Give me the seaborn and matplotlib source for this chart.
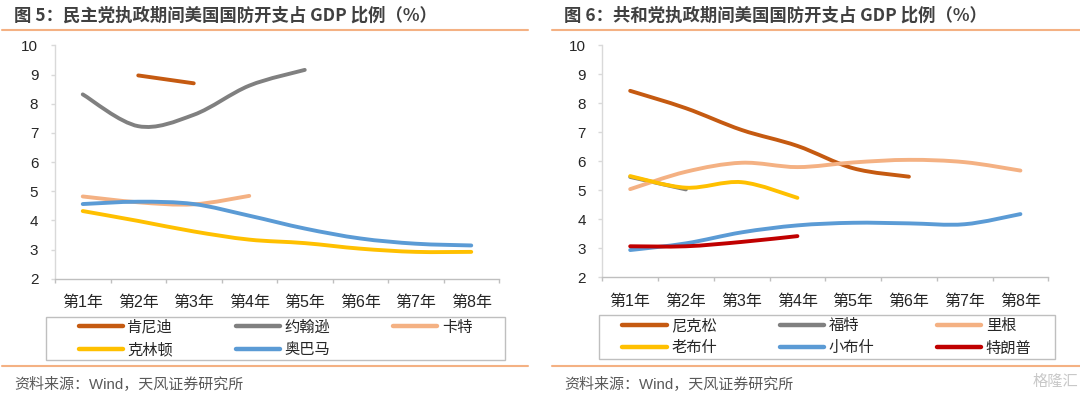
import numpy as np
import pandas as pd
import matplotlib
matplotlib.use("Agg")
import matplotlib.pyplot as plt
import seaborn as sns
from matplotlib.path import Path
from matplotlib.patches import PathPatch, Rectangle
from matplotlib.lines import Line2D

# ---------------- data ----------------
years = ["第1年", "第2年", "第3年", "第4年", "第5年", "第6年", "第7年", "第8年"]
nan = np.nan

dem_names = ["肯尼迪", "约翰逊", "卡特", "克林顿", "奥巴马"]
kennedy = [nan, 8.97, 8.70, nan, nan, nan, nan, nan]
johnson = [8.32, 7.23, 7.62, 8.62, 9.16, nan, nan, nan]
carter = [4.82, 4.62, 4.55, 4.84, nan, nan, nan, nan]
clinton = [4.32, 3.98, 3.62, 3.34, 3.22, 3.03, 2.92, 2.92]
obama = [4.56, 4.64, 4.56, 4.16, 3.72, 3.38, 3.20, 3.14]
dem_values = [kennedy, johnson, carter, clinton, obama]
dem_colors = ["#C55A11", "#808080", "#F4B183", "#FFC000", "#5B9BD5"]

rep_names = ["尼克松", "福特", "里根", "老布什", "小布什", "特朗普"]
nixon = [8.43, 7.83, 7.08, 6.53, 5.76, 5.47, nan, nan]
ford = [5.46, 5.03, nan, nan, nan, nan, nan, nan]
reagan = [5.04, 5.64, 5.95, 5.80, 5.96, 6.05, 5.97, 5.68]
bush_sr = [5.49, 5.09, 5.28, 4.74, nan, nan, nan, nan]
bush_jr = [2.94, 3.17, 3.55, 3.79, 3.88, 3.86, 3.83, 4.18]
trump = [3.07, 3.07, 3.22, 3.42, nan, nan, nan, nan]
rep_values = [nixon, ford, reagan, bush_sr, bush_jr, trump]
rep_colors = ["#C55A11", "#808080", "#F4B183", "#FFC000", "#5B9BD5", "#C00000"]

titles = ["图 5：民主党执政期间美国国防开支占 GDP 比例（%）",
          "图 6：共和党执政期间美国国防开支占 GDP 比例（%）"]
source = "资料来源：Wind，天风证券研究所"

# ---------------- style ----------------
sns.set_theme(style="white")
plt.rcParams["font.family"] = ["Liberation Sans", "Noto Sans CJK SC", "DejaVu Sans"]
plt.rcParams["axes.unicode_minus"] = False

W, H = 1080, 397
fig = plt.figure(figsize=(W / 100, H / 100), dpi=100)
fig.patch.set_facecolor("white")

LW = 2.8
TEXT = "#262626"
CJK = ["Noto Sans CJK SC", "DejaVu Sans"]


def fx(px):
    return px / W


def fy(py):
    return 1 - py / H


def smooth_path(x, y):
    pts = np.column_stack([x, y])
    n = len(pts)
    verts = [pts[0]]
    codes = [Path.MOVETO]
    for i in range(n - 1):
        p0 = pts[i - 1] if i > 0 else pts[i]
        p1 = pts[i]
        p2 = pts[i + 1]
        p3 = pts[i + 2] if i + 2 < n else pts[i + 1]
        c1 = p1 + (p2 - p0) / 6.0
        c2 = p2 - (p3 - p1) / 6.0
        verts += [c1, c2, p2]
        codes += [Path.CURVE4] * 3
    return Path(verts, codes)


def panel(rect, names, values, colors):
    ax = fig.add_axes(rect)
    rows = []
    for n, v in zip(names, values):
        for i, val in enumerate(v):
            rows.append({"x": i, "y": val, "name": n})
    df = pd.DataFrame(rows).dropna()
    sns.lineplot(data=df, x="x", y="y", hue="name", hue_order=names,
                 palette=colors, ax=ax, legend=False, linewidth=LW,
                 estimator=None, sort=True)
    # render each seaborn line as a smoothed curve (Excel-style smoothing)
    for line in list(ax.lines):
        xy = line.get_xydata()
        xy = xy[np.isfinite(xy).all(axis=1)]
        if len(xy) < 2:
            continue
        patch = PathPatch(smooth_path(xy[:, 0], xy[:, 1]), fill=False,
                          edgecolor=line.get_color(), lw=LW,
                          capstyle="round", joinstyle="round",
                          transform=ax.transData, zorder=line.get_zorder())
        ax.add_patch(patch)
        line.set_visible(False)

    ax.set_xlim(-0.5, 7.5)
    ax.set_ylim(2, 10)
    ax.set_yticks(range(2, 11))
    ax.set_xticks(range(len(years)))
    ax.set_xticklabels(years, fontsize=11.5, fontweight="medium")
    ax.set_xticks(np.arange(-0.5, 8.0, 1.0), minor=True)
    ax.set_xlabel("")
    ax.set_ylabel("")
    for s in ["top", "right"]:
        ax.spines[s].set_visible(False)
    ax.spines["left"].set_color("#D9D9D9")
    ax.spines["bottom"].set_color("#BFBFBF")
    ax.spines["left"].set_linewidth(1.0)
    ax.spines["bottom"].set_linewidth(1.0)
    ax.tick_params(axis="y", which="major", left=True, length=3, width=1,
                   color="#D9D9D9", pad=9, labelsize=11, labelcolor=TEXT)
    ax.tick_params(axis="x", which="major", bottom=True, length=0, pad=12,
                   labelcolor=TEXT)
    ax.tick_params(axis="x", which="minor", bottom=True, length=3, width=1,
                   color="#BFBFBF")
    ax.grid(False)
    ax.set_facecolor("white")
    return ax


def legend_box(x0, x1, y0, y1, names, colors):
    fig.add_artist(Rectangle((fx(x0), fy(y1)), fx(x1) - fx(x0), fy(y0) - fy(y1),
                             transform=fig.transFigure, fill=False,
                             edgecolor="#BFBFBF", lw=1.0))
    handles = [Line2D([0], [0], color=c, lw=3.2, solid_capstyle="round")
               for c in colors]
    # matplotlib fills legend columns first; reorder so entries read row by row
    n = len(names)
    order = [i for c in range(3) for i in (c, c + 3) if i < n]
    fig.legend([handles[i] for i in order], [names[i] for i in order],
               loc="center",
               bbox_to_anchor=(fx((x0 + x1) / 2), fy((y0 + y1) / 2)),
               ncol=3, frameon=False, handlelength=2.9,
               handletextpad=0.3, columnspacing=4.1, labelspacing=0.35,
               borderpad=0.0, labelcolor=TEXT,
               prop={"family": CJK, "size": 11})


# ---------------- panels ----------------
ax1 = panel([fx(55), fy(278.7), fx(499) - fx(55), fy(45.4) - fy(278.7)],
            dem_names, dem_values, dem_colors)
ax2 = panel([fx(602.3), fy(277.3), fx(1048.3) - fx(602.3), fy(45.3) - fy(277.3)],
            rep_names, rep_values, rep_colors)

legend_box(46, 505, 316.7, 360, dem_names, dem_colors)
legend_box(599, 1055, 314.5, 359, rep_names, rep_colors)

ORANGE = "#F4B183"
for (xa, xb) in [(2, 528), (552, 1080)]:
    fig.add_artist(Line2D([fx(xa), fx(xb)], [fy(30), fy(30)],
                          transform=fig.transFigure, color=ORANGE, lw=1.5))
    fig.add_artist(Line2D([fx(xa), fx(xb)], [fy(366), fy(366)],
                          transform=fig.transFigure, color=ORANGE, lw=1.5))

for xpos, t in zip([13.8, 564], titles):
    fig.text(fx(xpos), fy(15.5), t, ha="left", va="center", fontsize=12.5,
             fontweight="bold", color="#404040", family=CJK)
    fig.text(fx(xpos), fy(385), source, ha="left", va="center", fontsize=10.8,
             color="#595959")

fig.text(fx(1078), fy(381), "格隆汇", ha="right", va="center", fontsize=11,
         color="#C8C8C8", family=CJK)

fig.savefig("out.png", dpi=100, facecolor="white")
